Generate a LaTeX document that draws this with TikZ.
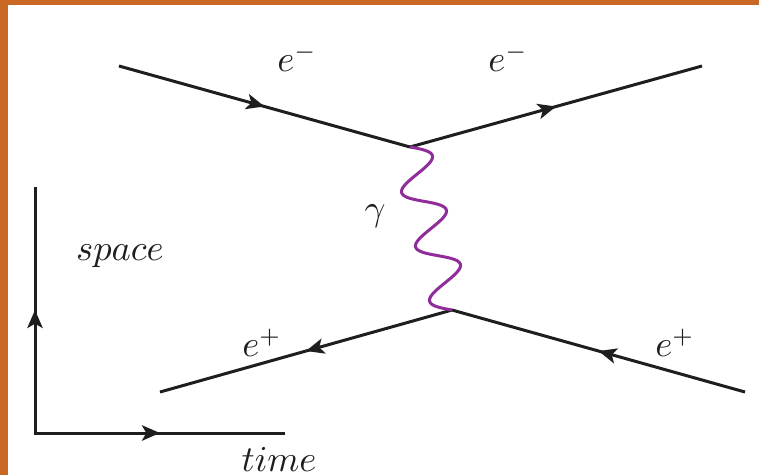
\documentclass[tikz,border=0pt]{standalone}
\usetikzlibrary{arrows.meta,decorations.markings}
\definecolor{frame}{RGB}{201,104,36}
\definecolor{ink}{RGB}{30,30,30}
\definecolor{photon}{RGB}{145,45,155}
\begin{document}
\begin{tikzpicture}[x=0.3pt,y=-0.3pt,
  fermion/.style={draw=ink,line width=0.9pt,
    postaction={decorate},
    decoration={markings,mark=at position 0.5 with {\arrow[ink]{Stealth[length=5.4pt,width=4.6pt,inset=1.3pt]}}}},
  axis/.style={fermion},
  boson/.style={draw=photon,line width=0.9pt,line join=round},
  lbl/.style={inner sep=0pt,text=ink,font=\fontsize{10.5}{12}\selectfont}]
\useasboundingbox (0,0) rectangle (759,475);
\fill[white] (0,0) rectangle (759,475);
\fill[frame] (0,0) rectangle (759,5);
\fill[frame] (0,0) rectangle (8,475);
% points
\coordinate (tl) at (119,66);
\coordinate (tr) at (702,66);
\coordinate (v1) at (410,147);
\coordinate (v2) at (452,310);
\coordinate (bl) at (160,392);
\coordinate (br) at (745,392);
\coordinate (o) at (35,433);
\coordinate (up) at (35,187);
\coordinate (rt) at (285,433);
% lines
\draw[fermion] (tl) -- (v1);
\draw[fermion] (v1) -- (tr);
\draw[fermion] (v2) -- (bl);
\draw[fermion] (br) -- (v2);
% photon from v1 to v2
\draw[boson] (v1) -- plot[domain=0:1,samples=150,smooth,variable=\t]
  ({410+42*\t+18.9*sin(1080*\t)},{147+163*\t-4.87*sin(1080*\t)}) -- (v2);
\draw[axis] (o) -- (up);
\draw[axis] (o) -- (rt);
\draw[ink,line width=0.9pt] (up) -- (o) -- (rt);
% labels
\node[lbl] (l1) at (297,58) {$e^-$};
\node[lbl] (l2) at (508,58) {$e^-$};
\node[lbl] (lg) at (375,216) {$\gamma$};
\node[lbl] (l3) at (262,343) {$e^+$};
\node[lbl] (l4) at (675,343) {$e^+$};
\node[lbl] (sp) at (120,256) {$space$};
\node[lbl] (tm) at (279,459) {$time$};
\end{tikzpicture}
\end{document}
